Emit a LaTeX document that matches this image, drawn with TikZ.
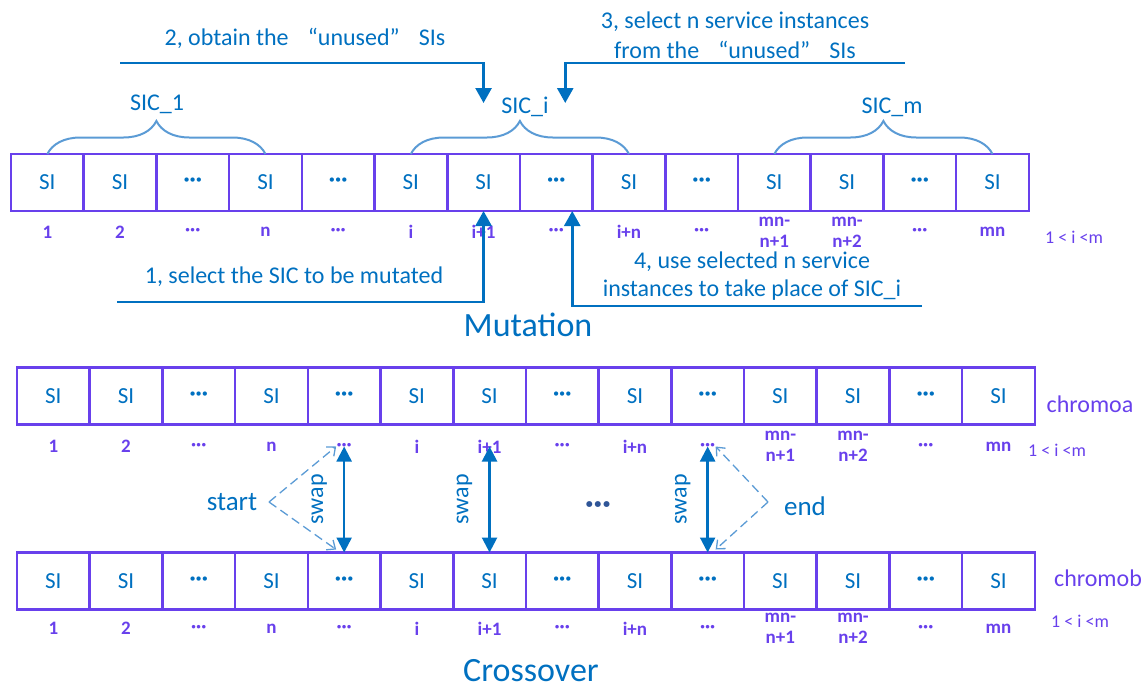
\documentclass[tikz,border=0pt]{standalone}
\usepackage{fontspec}
\setmainfont{Carlito}
\usetikzlibrary{arrows.meta,decorations.pathreplacing,positioning,calc}
\definecolor{stepblue}{RGB}{0,112,192}
\definecolor{genepurple}{RGB}{104,64,236}
\definecolor{braceblue}{RGB}{91,155,213}
\definecolor{dotnavy}{RGB}{47,85,151}
\newcommand{\sidots}{\textbf{···}}

\tikzset{
    gene/.style={draw=genepurple, line width=2.6pt, minimum width=72.7pt, minimum height=57pt,
        inner sep=0pt, outer sep=0pt, text=stepblue, font=\fontsize{23}{23}\selectfont},
    idx/.style={text=genepurple, font=\fontsize{19}{21}\selectfont\bfseries, align=center, inner sep=1pt},
    note/.style={text=stepblue, font=\fontsize{24}{30}\selectfont, align=center},
    flow/.style={draw=stepblue, line width=2.6pt, -{Triangle[length=15pt,width=16pt]}},
    swaparrow/.style={draw=stepblue, line width=2.4pt,
        {Triangle[length=15pt,width=15pt]}-{Triangle[length=15pt,width=15pt]}},
    guide/.style={draw=braceblue, line width=1.3pt, dash pattern=on 9pt off 5pt,
        -{Straight Barb[length=7pt,width=12pt]}},
    sicbrace/.style={draw=braceblue, line width=2pt, decorate, decoration={brace, amplitude=33pt}},
    rangelbl/.style={text=genepurple, font=\fontsize{18}{18}\selectfont},
    chromo/.style={text=genepurple, font=\fontsize{24}{24}\selectfont},
}

\begin{document}
\begin{tikzpicture}[x=1pt, y=-1pt]
    \useasboundingbox (0,0) rectangle (1142,689);

    % Mutation row and the two crossover chromosomes
    \foreach \i/\g/\l in {1/SI/1, 2/SI/2, 3/\sidots/\sidots, 4/SI/n, 5/\sidots/\sidots,
        6/SI/i, 7/SI/i+1, 8/\sidots/\sidots, 9/SI/i+n, 10/\sidots/\sidots,
        11/SI/{mn-\\n+1}, 12/SI/{mn-\\n+2}, 13/\sidots/\sidots, 14/SI/mn} {
        \node[gene] (m\i) at (11+\i*72.7-36.35, 182.5) {\g};
        \node[idx] (lm\i) at ([yshift=-21pt]m\i.south) {\l};
        \node[gene] (a\i) at (17+\i*72.7-36.35, 396) {\g};
        \node[idx] (la\i) at ([yshift=-22pt]a\i.south) {\l};
        \node[gene] (b\i) at (17+\i*72.7-36.35, 581) {\g};
        \node[idx] (lb\i) at ([yshift=-19pt]b\i.south) {\l};
    }

    % SIC braces
    \draw[sicbrace] (m1.north) -- (m4.north);
    \draw[sicbrace] (m6.north) -- (m9.north);
    \draw[sicbrace] (m11.north) -- (m14.north);
    \node[note] (sic1) at (157,104) {SIC\_1};
    \node[note] (sici) at (525,107) {SIC\_i};
    \node[note] (sicm) at (892,107) {SIC\_m};

    % Mutation steps
    \node[note] (t2) at (305,38) {2, obtain the\hspace{0.8em}“unused”\hspace{0.8em}SIs};
    \node[note] (t3) at (735,35) {3, select n service instances\\from the\hspace{0.8em}“unused”\hspace{0.8em}SIs};
    \node[note] (t1) at (294,277) {1, select the SIC to be mutated};
    \node[note, font=\fontsize{24}{28}\selectfont, inner sep=1pt] (t4) at (752,276) {4, use selected n service\\instances to take place of SIC\_i};
    \coordinate (s2) at (120,63);
    \coordinate (s3) at (905,63);
    \coordinate (s1) at (117,302);
    \coordinate (s4) at (922,306);
    \draw[flow] (s2) -| ([yshift=51pt]m7.north);
    \draw[flow] (s3) -| ([xshift=9pt,yshift=51pt]m8.north);
    \draw[flow] (s1) -| (m7.south);
    \draw[flow] (s4) -| ([xshift=16pt]m8.south);

    \node[rangelbl] (rm) at (1074,237) {1 < i <m};
    \node[text=stepblue, font=\fontsize{34}{34}\selectfont] (mut) at (528,325) {Mutation};

    % Crossover
    \node[chromo] (ca) at (1090,404) {chromoa};
    \node[chromo] (cb) at (1098,578) {chromob};
    \node[rangelbl] (ra) at (1057,450) {1 < i <m};
    \node[rangelbl] (rb) at (1080,621) {1 < i <m};

    \foreach \i in {5,7,10} {
        \draw[swaparrow] (la\i.center) -- (b\i.north);
        \node[note, rotate=90] (sw\i) at ([xshift=-25pt]$(la\i.center)!0.5!(b\i.north)$) {swap};
    }
    \node[text=dotnavy, font=\fontsize{32}{32}\selectfont\bfseries] (gap) at (598,508) {···};

    \node[text=stepblue, font=\fontsize{27}{27}\selectfont] (start) at (232,502) {start};
    \node[text=stepblue, font=\fontsize{27}{27}\selectfont] (end) at (805,506) {end};
    \coordinate (startv) at (269,502);
    \coordinate (endv) at (768,502);
    \draw[guide] (startv) -- ([xshift=-8pt]la5.center);
    \draw[guide] (startv) -- ([xshift=-8pt,yshift=3pt]b5.north);
    \draw[guide] (endv) -- ([xshift=8pt]la10.center);
    \draw[guide] (endv) -- ([xshift=8pt,yshift=3pt]b10.north);

    \node[text=stepblue, font=\fontsize{34}{34}\selectfont] (cross) at (531,671) {Crossover};
\end{tikzpicture}
\end{document}
